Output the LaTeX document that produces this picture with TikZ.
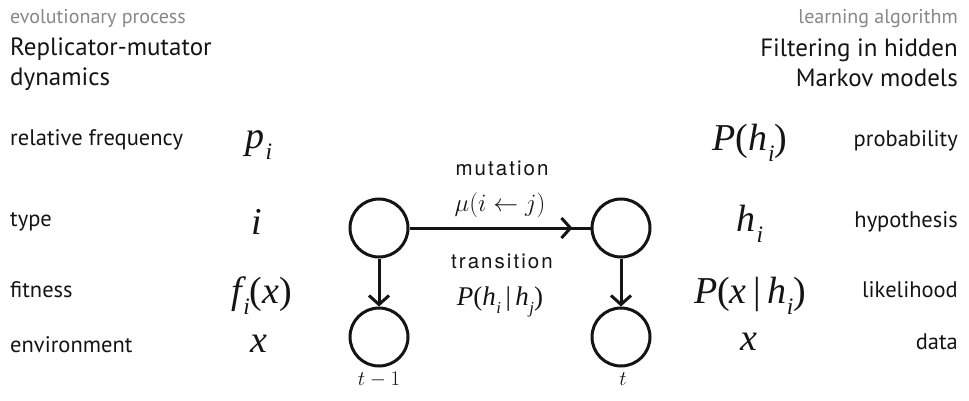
\documentclass[tikz,border=0pt]{standalone}
\usepackage{fontspec}
\setmainfont{PT Sans}
\newfontfamily\tms{Liberation Serif}
\newfontfamily\hel[LetterSpace=10]{TeX Gyre Heros}
\usetikzlibrary{arrows.meta,decorations.markings}
\definecolor{ink}{RGB}{20,20,20}
\definecolor{soft}{RGB}{135,135,135}
% italic letter with a small lowered index
\newcommand\isub[2]{#1\kern0.02em\raisebox{-0.3em}{\scalebox{0.62}{#2}}}
\tikzset{
  head/.style={font=\fontsize{20}{24}\selectfont, text=soft, inner sep=0},
  title/.style={font=\fontsize{25}{30}\selectfont, text=ink, inner sep=0},
  rowlabel/.style={font=\fontsize{22.5}{26}\selectfont, text=ink, inner sep=0},
  sym/.style={font=\fontsize{38}{40}\selectfont\tms, text=ink, inner sep=0, anchor=base},
  edgelabel/.style={font=\fontsize{20.5}{24}\selectfont\hel, text=ink, inner sep=0, anchor=base},
  edgemath/.style={font=\fontsize{26.5}{30}\selectfont, text=ink, inner sep=0, anchor=base},
  state/.style={circle, draw=ink, line width=3pt, minimum size=58pt, inner sep=0},
  conn/.style={draw=ink, line width=3pt},
  tip/.style={-{Straight Barb[length=9pt,width=20pt,line width=3pt]}},
}
\begin{document}
\begin{tikzpicture}[x=1pt,y=-1pt]
\useasboundingbox (0,0) rectangle (969,400);

% headings
\node[head, anchor=base west] (hl) at (10,23) {evolutionary process};
\node[title, anchor=base west] (tl1) at (10,55) {Replicator-mutator};
\node[title, anchor=base west] (tl2) at (10,85) {dynamics};
\node[head, anchor=base east] (hr) at (958,23) {learning algorithm};
\node[title, anchor=base east] (tr1) at (958,56) {Filtering in hidden};
\node[title, anchor=base east] (tr2) at (958,86) {Markov models};

% left column: quantities of the evolutionary process
\node[rowlabel, anchor=base west] (l1) at (10,145) {relative frequency};
\node[rowlabel, anchor=base west] (l2) at (10,226) {type};
\node[rowlabel, anchor=base west] (l3) at (10,297) {fitness};
\node[rowlabel, anchor=base west] (l4) at (10,352) {environment};
\node[sym] (s1) at (259,148) {\itshape\isub{p}{i}};
\node[sym] (s2) at (257,234) {\itshape i};
\node[sym] (s3) at (262,303) {\itshape\isub{f}{i}\upshape(\itshape x\upshape)};
\node[sym] (s4) at (259,352) {\itshape x};

% right column: quantities of the learning algorithm
\node[rowlabel, anchor=base east] (r1) at (958,146) {probability};
\node[rowlabel, anchor=base east] (r2) at (958,227) {hypothesis};
\node[rowlabel, anchor=base east] (r3) at (958,297) {likelihood};
\node[rowlabel, anchor=base east] (r4) at (958,349) {data};
\node[sym] (q1) at (750,150) {\itshape P\upshape(\itshape\isub{h}{i}\upshape)};
\node[sym] (q2) at (750,231) {\itshape\isub{h}{i}};
\node[sym] (q3) at (750,303) {\itshape P\upshape(\itshape x\upshape\,|\,\itshape\isub{h}{i}\upshape)};
\node[sym] (q4) at (749,350) {\itshape x};

% graphical model
\node[state] (a) at (379,228) {};
\node[state] (b) at (379,337) {};
\node[state] (c) at (621,228) {};
\node[state] (d) at (621,337) {};

\draw[conn, postaction={decorate}, decoration={markings,
  mark=at position 163pt with {\arrow{Straight Barb[length=9pt,width=20pt,line width=3pt]}}}]
  (a) -- (c);
\draw[conn, tip] (a) -- (b);
\draw[conn, tip] (c) -- (d);

\node[edgelabel] (m1) at (502,175) {mutation};
\node[edgemath] (m2) at (500,211) {$\mu(i \leftarrow j)$};
\node[edgelabel] (m3) at (502,268) {transition};
\node[edgemath, font=\fontsize{27}{30}\selectfont\tms] (m4) at (500,305)
  {\itshape P\upshape(\itshape\isub{h}{i}\upshape\,|\,\itshape\isub{h}{j}\upshape)};

\node[edgemath, font=\fontsize{22}{26}\selectfont] (ta) at (379,385) {$t-1$};
\node[edgemath, font=\fontsize{22}{26}\selectfont] (tb) at (623,385) {$t$};
\end{tikzpicture}
\end{document}
